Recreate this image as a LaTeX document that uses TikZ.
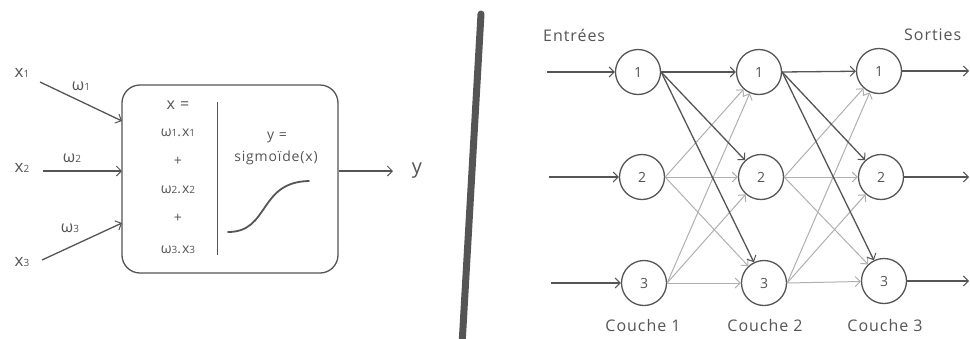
\documentclass[tikz,border=0pt]{standalone}
\usepackage{fontspec}
\setmainfont[LetterSpace=6]{Open Sans}
\usetikzlibrary{arrows.meta}
\definecolor{ink}{HTML}{555555}
\definecolor{txt}{HTML}{555555}
\definecolor{light}{HTML}{B0B0B0}
\newcommand{\sbx}[2]{#1{\fontsize{10}{10}\selectfont #2}}
\newcommand{\sbxs}[2]{#1{\fontsize{10}{10}\selectfont #2}}
\tikzset{
  lbl/.style={text=txt, inner sep=0pt, font=\fontsize{16}{18}\selectfont},
  boxtxt/.style={text=txt, inner sep=0pt, font=\fontsize{14}{15}\selectfont},
  neuron/.style={circle, draw=ink, line width=1.3pt, minimum size=45pt, inner sep=0pt, text=txt, font=\fontsize{14}{15}\selectfont},
  tip/.style={-{Straight Barb[length=5pt,width=10pt,line width=1pt]}},
  darkarr/.style={tip, draw=ink, line width=1.3pt},
  lightarr/.style={tip, draw=light, line width=1pt},
}
\begin{document}
\begin{tikzpicture}[x=1pt,y=-1pt]
\useasboundingbox[fill=white] (0,0) rectangle (970,338);
% ---------- left: single neuron ----------
\node[draw=ink, line width=1.3pt, rounded corners=18pt, minimum width=216pt, minimum height=188pt] (box) at (230,179) {};
\coordinate (t1) at (122,121);
\coordinate (t2) at (122,171);
\coordinate (t3) at (122,223);
\coordinate (s1) at (40,82);
\coordinate (s2) at (43,171);
\coordinate (s3) at (42,260);
\node[lbl, font=\fontsize{17}{18}\selectfont] (x1) at (22,73) {\sbx{x}{1}};
\node[lbl, font=\fontsize{17}{18}\selectfont] (x2) at (22,168) {\sbx{x}{2}};
\node[lbl, font=\fontsize{17}{18}\selectfont] (x3) at (22,262) {\sbx{x}{3}};
\node[lbl] (w1) at (81,86) {\sbx{ω}{1}};
\node[lbl] (w2) at (72,158) {\sbx{ω}{2}};
\node[lbl] (w3) at (70,228) {\sbx{ω}{3}};
\draw[darkarr] (s1) -- (t1);
\draw[darkarr] (s2) -- (t2);
\draw[darkarr] (s3) -- (t3);
\coordinate (d1) at (217,102);
\coordinate (d2) at (217,255);
\draw[ink, line width=0.8pt] (d1) -- (d2);
\node[boxtxt, font=\fontsize{16}{17}\selectfont] (xe) at (178,105) {x =};
\node[boxtxt] (p1) at (178,133) {\sbxs{ω}{1}.\sbxs{x}{1}};
\node[boxtxt] (pl1) at (178,161) {+};
\node[boxtxt] (p2) at (178,190) {\sbxs{ω}{2}.\sbxs{x}{2}};
\node[boxtxt] (pl2) at (178,218) {+};
\node[boxtxt] (p3) at (178,250) {\sbxs{ω}{3}.\sbxs{x}{3}};
\node[boxtxt] (ye) at (277,137) {y =};
\node[boxtxt] (sg) at (276,158) {sigmoïde(x)};
\coordinate (c0) at (228,232);
\coordinate (c1) at (309,181);
\draw[ink, line width=1.8pt, line cap=round] (c0) .. controls (270,232) and (258,182) .. (c1);
\coordinate (o1) at (393,171);
\draw[darkarr] (box.east |- t2) -- (o1);
\node[lbl, font=\fontsize{20}{22}\selectfont] (y) at (417,171) {y};
% ---------- divider ----------
\coordinate (v1) at (481,14);
\coordinate (v2) at (462,345);
\draw[ink, line width=7pt, line cap=round] (v1) -- (v2);
% ---------- right: network ----------
\node[neuron] (a1) at (638,72) {1};
\node[neuron] (a2) at (642,177) {2};
\node[neuron] (a3) at (644,283) {3};
\node[neuron] (b1) at (759,72) {1};
\node[neuron] (b2) at (761,177) {2};
\node[neuron] (b3) at (764,283) {3};
\node[neuron] (c1n) at (879,71) {1};
\node[neuron] (c2n) at (881,177) {2};
\node[neuron] (c3n) at (884,281) {3};
% light edges first
\foreach \s in {a2,a3} \foreach \t in {b1,b2,b3} \draw[lightarr] (\s.east) -- (\t);
\foreach \s in {b2,b3} \foreach \t in {c1n,c2n,c3n} \draw[lightarr] (\s.east) -- (\t);
\foreach \t in {b1,b2,b3} \draw[darkarr] (a1.east) -- (\t);
\foreach \t in {c1n,c2n,c3n} \draw[darkarr] (b1.east) -- (\t);
% inputs / outputs
\coordinate (i1) at (547,72);
\coordinate (i2) at (549,177);
\coordinate (i3) at (551,283);
\draw[darkarr] (i1) -- (a1);
\draw[darkarr] (i2) -- (a2);
\draw[darkarr] (i3) -- (a3);
\coordinate (e1) at (969,71);
\coordinate (e2) at (969,177);
\coordinate (e3) at (969,281);
\draw[darkarr] (c1n) -- (e1);
\draw[darkarr] (c2n) -- (e2);
\draw[darkarr] (c3n) -- (e3);
\node[lbl, anchor=west] (ent) at (543,35) {Entrées};
\node[lbl, anchor=west] (sor) at (904,35) {Sorties};
\node[lbl] (l1) at (643,325) {Couche 1};
\node[lbl] (l2) at (765,325) {Couche 2};
\node[lbl] (l3) at (885,325) {Couche 3};
\end{tikzpicture}
\end{document}
